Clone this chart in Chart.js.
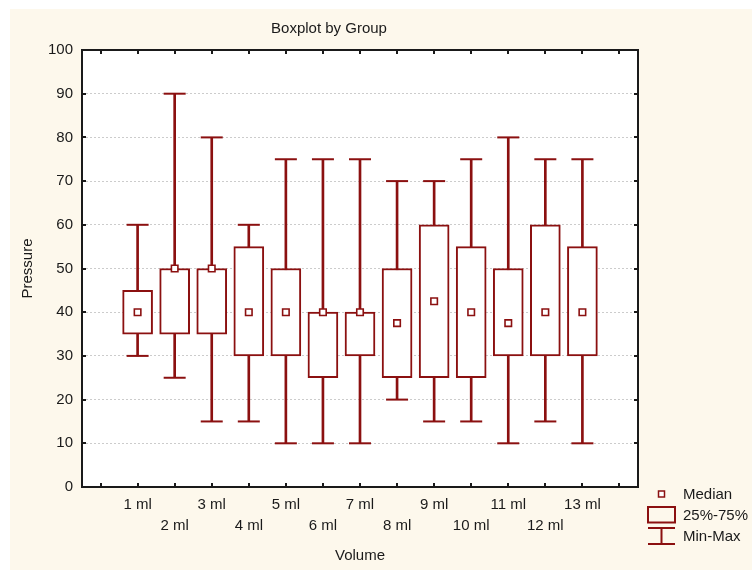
<!DOCTYPE html>
<html>
<head>
<meta charset="utf-8">
<title>Boxplot by Group</title>
<script src="https://cdn.jsdelivr.net/npm/chart.js@4.4.1/dist/chart.umd.min.js"></script>
<style>
  html, body { margin: 0; padding: 0; background: #fff; }
  #wrap { width: 752px; height: 570px; }
</style>
</head>
<body>
<div id="wrap"><canvas id="chart" width="752" height="570"></canvas></div>
<script>
// values
const volumes = ['1 ml', '2 ml', '3 ml', '4 ml', '5 ml', '6 ml', '7 ml', '8 ml', '9 ml', '10 ml', '11 ml', '12 ml', '13 ml'];
const minVals = [30, 25, 15, 15, 10, 10, 10, 20, 15, 15, 10, 15, 10];
const q1Vals = [35, 35, 35, 30, 30, 25, 30, 25, 25, 25, 30, 30, 30];
const medianVals = [40, 50, 50, 40, 40, 40, 40, 37.5, 42.5, 40, 37.5, 40, 40];
const q3Vals = [45, 50, 50, 55, 50, 40, 40, 50, 60, 55, 50, 60, 55];
const maxVals = [60, 90, 80, 60, 75, 75, 75, 70, 70, 75, 80, 75, 75];
const yTicks = [0, 10, 20, 30, 40, 50, 60, 70, 80, 90, 100];
const legendNames = ['Median', '25%-75%', 'Min-Max'];

const boxColor = '#8b1010';
const inkColor = '#1a1a1a';
const fontFamily = '"Liberation Sans", Arial, sans-serif';

// empty slot on each side, even groups drop to a second label row
const labels = ['', ...volumes.map((v, i) => (i % 2 ? ['', v] : v)), ''];
const pad = arr => [null, ...arr, null];

Chart.defaults.font.family = fontFamily;
Chart.defaults.font.size = 15;
Chart.defaults.color = inkColor;

const framePlugin = {
  id: 'frame',
  beforeDraw(chart) {
    const { ctx, chartArea: a, width, height } = chart;
    ctx.save();
    ctx.fillStyle = '#fff';
    ctx.fillRect(0, 0, width, height);
    ctx.fillStyle = '#fdf8ec';
    ctx.fillRect(10, 9, width - 10, height - 9);
    ctx.fillStyle = '#fff';
    ctx.fillRect(a.left, a.top, a.right - a.left, a.bottom - a.top);
    ctx.restore();
  },
  afterDraw(chart) {
    const { ctx, chartArea: a, scales } = chart;
    ctx.save();

    // plot frame + inward ticks
    ctx.strokeStyle = inkColor;
    ctx.lineWidth = 2;
    ctx.strokeRect(a.left, a.top, a.right - a.left, a.bottom - a.top);
    ctx.beginPath();
    yTicks.forEach(v => {
      const py = Math.round(scales.y.getPixelForValue(v));
      ctx.moveTo(a.left, py); ctx.lineTo(a.left + 4, py);
      ctx.moveTo(a.right, py); ctx.lineTo(a.right - 4, py);
    });
    labels.forEach((_, i) => {
      const px = Math.round(scales.x.getPixelForValue(i));
      ctx.moveTo(px, a.bottom); ctx.lineTo(px, a.bottom - 4);
      ctx.moveTo(px, a.top); ctx.lineTo(px, a.top + 4);
    });
    ctx.stroke();

    // title
    ctx.fillStyle = inkColor;
    ctx.font = '15px ' + fontFamily;
    ctx.textAlign = 'center';
    ctx.textBaseline = 'middle';
    ctx.fillText('Boxplot by Group', 329, 29);

    // legend
    const lx = 661.5, tx = 683;
    ctx.textAlign = 'left';
    ctx.strokeStyle = boxColor;
    ctx.lineWidth = 1.5;
    ctx.fillStyle = '#fff';
    ctx.fillRect(658.5, 491, 6, 6);
    ctx.strokeRect(658.5, 491, 6, 6);
    ctx.lineWidth = 2;
    ctx.strokeRect(648, 507, 27, 15.5);
    ctx.beginPath();
    ctx.moveTo(648, 528); ctx.lineTo(675, 528);
    ctx.moveTo(648, 544); ctx.lineTo(675, 544);
    ctx.moveTo(lx, 528); ctx.lineTo(lx, 544);
    ctx.stroke();
    ctx.fillStyle = inkColor;
    ctx.fillText(legendNames[0], tx, 495);
    ctx.fillText(legendNames[1], tx, 516);
    ctx.fillText(legendNames[2], tx, 537);
    ctx.restore();
  }
};

new Chart(document.getElementById('chart'), {
  data: {
    labels,
    datasets: [
      {
        type: 'line',
        label: 'Median',
        data: pad(medianVals),
        showLine: false,
        pointStyle: 'rect',
        pointRadius: 4.6,
        pointBorderWidth: 1.6,
        pointBorderColor: boxColor,
        pointBackgroundColor: '#fff',
      },
      {
        type: 'line',
        label: 'Max',
        data: pad(maxVals),
        showLine: false,
        pointStyle: 'line',
        pointRadius: 11,
        pointBorderWidth: 2,
        pointBorderColor: boxColor,
      },
      {
        type: 'line',
        label: 'Min',
        data: pad(minVals),
        showLine: false,
        pointStyle: 'line',
        pointRadius: 11,
        pointBorderWidth: 2,
        pointBorderColor: boxColor,
      },
      {
        type: 'bar',
        label: '25%-75%',
        data: pad(q1Vals.map((q, i) => [q, q3Vals[i]])),
        backgroundColor: '#fff',
        borderColor: boxColor,
        borderWidth: 2,
        borderSkipped: false,
        barThickness: 30,
        grouped: false,
      },
      {
        type: 'bar',
        label: 'Min-Max',
        data: pad(minVals.map((m, i) => [m, maxVals[i]])),
        backgroundColor: boxColor,
        borderWidth: 0,
        barThickness: 2,
        grouped: false,
      },
    ],
  },
  options: {
    responsive: false,
    animation: false,
    events: [],
    layout: { padding: { top: 50, right: 114, left: 0, bottom: 0 } },
    plugins: {
      legend: { display: false },
      tooltip: { enabled: false },
      title: { display: false },
    },
    scales: {
      x: {
        type: 'category',
        offset: true,
        grid: { display: false, drawTicks: false },
        border: { display: false },
        ticks: { autoSkip: false, maxRotation: 0, padding: 7.5, font: { size: 15, lineHeight: 1.4 } },
        title: { display: true, text: 'Volume', font: { size: 15 }, padding: { top: 0, bottom: 5 } },
        afterFit(scale) { scale.height = 83; },
      },
      y: {
        min: 0,
        max: 100,
        grid: { color: '#cccccc', lineWidth: 1, drawTicks: false },
        border: { display: false, dash: [2, 2] },
        ticks: { stepSize: 10, padding: 9, font: { size: 15 } },
        title: { display: true, text: 'Pressure', font: { size: 15 }, padding: { top: 19, bottom: 0 } },
        afterFit(scale) { scale.width = 82; },
      },
    },
  },
  plugins: [framePlugin],
});
</script>
</body>
</html>
